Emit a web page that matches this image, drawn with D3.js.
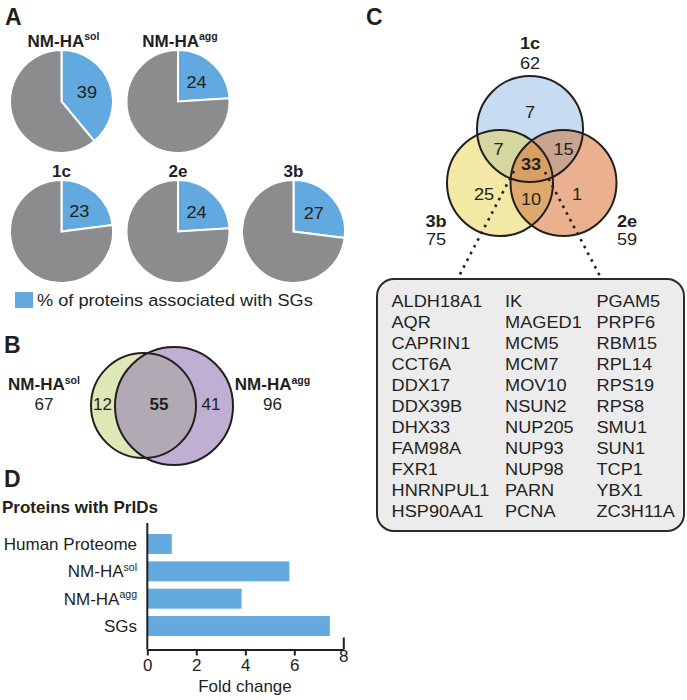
<!DOCTYPE html>
<html><head><meta charset="utf-8">
<script src="https://cdn.jsdelivr.net/npm/d3@7"></script>
<style>
html,body{margin:0;padding:0;background:#fff;}
text{font-family:"Liberation Sans",Arial,sans-serif;fill:#231f20;}
</style></head>
<body>
<svg id="chart" width="687" height="700"></svg>
<script>
// ---------- DATA ----------
const pieNames = ["NM-HA", "NM-HA", "1c", "2e", "3b"];
const pieSups = ["sol", "agg", "", "", ""];
const pieValues = [39, 24, 23, 24, 27];
const legendText = "% of proteins associated with SGs";

const vennBNames = ["NM-HA", "NM-HA"];
const vennBSups = ["sol", "agg"];
const vennBTotals = [67, 96];
const vennBRegions = [12, 55, 41]; // sol only, both, agg only

const vennCNames = ["1c", "3b", "2e"];
const vennCTotals = [62, 75, 59];
// regions: 1c only, 1c&3b, 1c&2e, all, 3b only, 3b&2e, 2e only
const vennCRegions = [7, 7, 15, 33, 25, 10, 1];

const genesCol1 = ["ALDH18A1","AQR","CAPRIN1","CCT6A","DDX17","DDX39B","DHX33","FAM98A","FXR1","HNRNPUL1","HSP90AA1"];
const genesCol2 = ["IK","MAGED1","MCM5","MCM7","MOV10","NSUN2","NUP205","NUP93","NUP98","PARN","PCNA"];
const genesCol3 = ["PGAM5","PRPF6","RBM15","RPL14","RPS19","RPS8","SMU1","SUN1","TCP1","YBX1","ZC3H11A"];

const barTitle = "Proteins with PrIDs";
const barCategories = ["Human Proteome", "NM-HA", "NM-HA", "SGs"];
const barSups = ["", "sol", "agg", ""];
const barValues = [1.0, 5.8, 3.85, 7.45];
const xTicks = [0, 2, 4, 6, 8];
const xLabel = "Fold change";

// ---------- STYLE ----------
const BLUE = "#62a9df", GREY = "#8b8c8e", INK = "#231f20";
const SX = 1.07; // some reference text is slightly wide
const svg = d3.select("#chart");
svg.append("rect").attr("width",687).attr("height",700).attr("fill","#fff");

function label(g, x, y, name, sup, size, weight, anchor) {
  const t = g.append("text").attr("x", x).attr("y", y)
    .attr("text-anchor", anchor || "middle")
    .style("font-size", size + "px").style("font-weight", weight || "normal");
  t.append("tspan").text(name);
  if (sup) t.append("tspan").attr("dy", -size*0.38).style("font-size", (size*0.62)+"px").text(sup);
  return t;
}
function panelLetter(x, y, s) {
  svg.append("text").attr("x", x).attr("y", y).text(s)
    .style("font-size", "23px").style("font-weight", "bold");
}

// ---------- PANEL A: pies ----------
panelLetter(5, 25, "A");
const pieCenters = [[61.5,101.5],[178,101.5],[61.5,231.5],[178,231.5],[293.5,231.5]];
const titleY = [46.5, 46.5, 176.5, 176.5, 176.5];
const R = 51.5;
const pie = d3.pie().sort(null).value(d => d);
const arc = d3.arc().innerRadius(0).outerRadius(R);
pieValues.forEach((v, i) => {
  const g = svg.append("g").attr("transform", `translate(${pieCenters[i][0]},${pieCenters[i][1]})`);
  const arcs = pie([v, 100 - v]);
  g.selectAll("path").data(arcs).join("path")
    .attr("d", arc).attr("fill", (d, j) => j === 0 ? BLUE : GREY)
    .attr("stroke", "#fff").attr("stroke-width", 2).attr("stroke-linejoin","miter");
  const a = (arcs[0].startAngle + arcs[0].endAngle) / 2;
  const lr = 27;
  g.append("text").attr("class","wide").attr("x", lr*Math.sin(a)).attr("y", -lr*Math.cos(a))
    .attr("text-anchor","middle").attr("dominant-baseline","central")
    .style("font-size","17px").text(v);
  label(svg, pieCenters[i][0] + (pieSups[i] ? 2 : 0), titleY[i], pieNames[i], pieSups[i], 17, "bold");
});
svg.append("rect").attr("x",15).attr("y",292).attr("width",18).attr("height",16).attr("fill",BLUE);
svg.append("text").attr("class","wide").attr("x",37).attr("y",306).style("font-size","17px").text(legendText);

// ---------- PANEL B: two-set venn ----------
panelLetter(4, 353, "B");
const cB = [{x:143.5,y:405.5,r:52.5,fill:"#dde8b6"},{x:174,y:406,r:59,fill:"#bfafd3"}];
const defs = svg.append("defs");
defs.append("clipPath").attr("id","clipB2").append("circle").attr("cx",cB[1].x).attr("cy",cB[1].y).attr("r",cB[1].r);
svg.selectAll("circle.bfill").data(cB).join("circle").attr("class","bfill")
  .attr("cx",d=>d.x).attr("cy",d=>d.y).attr("r",d=>d.r).attr("fill",d=>d.fill);
svg.append("circle").attr("cx",cB[0].x).attr("cy",cB[0].y).attr("r",cB[0].r)
  .attr("fill","#b1a9b3").attr("clip-path","url(#clipB2)");
svg.selectAll("circle.bstroke").data(cB).join("circle").attr("class","bstroke")
  .attr("cx",d=>d.x).attr("cy",d=>d.y).attr("r",d=>d.r).attr("fill","none")
  .attr("stroke",INK).attr("stroke-width",2);
const bLabelX = [44, 272.5];
vennBNames.forEach((n,i) => {
  label(svg, bLabelX[i], 390, n, vennBSups[i], 17, "bold");
  svg.append("text").attr("x", bLabelX[i]).attr("y", 410).attr("text-anchor","middle")
    .style("font-size","17px").text(vennBTotals[i]);
});
const bRegX = [102.5, 159, 211];
vennBRegions.forEach((v,i) => {
  svg.append("text").attr("x", bRegX[i]).attr("y", 410).attr("text-anchor","middle")
    .style("font-size","17px").style("font-weight", i===1?"bold":"normal").text(v);
});

// ---------- PANEL C: three-set venn ----------
panelLetter(366, 25, "C");
const cC = [
  {x:530,y:129,r:53,fill:"#c7dcf1"},
  {x:500,y:183,r:53,fill:"#f4e8a5"},
  {x:563.5,y:183,r:53,fill:"#ebb08e"}
];
cC.forEach((c,i) => {
  defs.append("clipPath").attr("id","clipC"+i).append("circle").attr("cx",c.x).attr("cy",c.y).attr("r",c.r);
});
svg.selectAll("circle.cfill").data(cC).join("circle").attr("class","cfill")
  .attr("cx",d=>d.x).attr("cy",d=>d.y).attr("r",d=>d.r).attr("fill",d=>d.fill);
const pairFills = [[0,1,"#d5d6a0"],[0,2,"#c9a48f"],[1,2,"#e0a96c"]];
pairFills.forEach(([a,b,f]) => {
  svg.append("circle").attr("cx",cC[a].x).attr("cy",cC[a].y).attr("r",cC[a].r)
    .attr("fill",f).attr("clip-path",`url(#clipC${b})`);
});
svg.append("g").attr("clip-path","url(#clipC2)").append("circle")
  .attr("cx",cC[0].x).attr("cy",cC[0].y).attr("r",cC[0].r)
  .attr("fill","#d89f62").attr("clip-path","url(#clipC1)");
svg.selectAll("circle.cstroke").data(cC).join("circle").attr("class","cstroke")
  .attr("cx",d=>d.x).attr("cy",d=>d.y).attr("r",d=>d.r).attr("fill","none")
  .attr("stroke",INK).attr("stroke-width",2);
const cRegPos = [[530,118],[498.5,155],[563.5,155],[531,170],[484,200],[531,205],[577,200]];
vennCRegions.forEach((v,i) => {
  svg.append("text").attr("class","wide").attr("x",cRegPos[i][0]).attr("y",cRegPos[i][1]).attr("text-anchor","middle")
    .style("font-size","17px").style("font-weight", i===3?"bold":"normal").text(v);
});
const cLabPos = [[530,48.5,68.5],[436,227,245],[627,227,245]];
vennCNames.forEach((n,i) => {
  label(svg, cLabPos[i][0], cLabPos[i][1], n, "", 17, "bold").attr("class","wide");
  svg.append("text").attr("class","wide").attr("x",cLabPos[i][0]).attr("y",cLabPos[i][2]).attr("text-anchor","middle")
    .style("font-size","17px").text(vennCTotals[i]);
});
// dotted connectors
[[514,171,459,276],[545,172,600,276]].forEach(l => {
  svg.append("line").attr("x1",l[0]).attr("y1",l[1]).attr("x2",l[2]).attr("y2",l[3])
    .attr("stroke",INK).attr("stroke-width",2.6).attr("stroke-dasharray","2.6,5");
});
// gene box
svg.append("rect").attr("x",377).attr("y",279).attr("width",307).attr("height",252).attr("rx",17)
  .attr("fill","#ececed").attr("stroke","#2b2b2b").attr("stroke-width",2);
const colX = [391.5, 505, 596.5];
[genesCol1, genesCol2, genesCol3].forEach((col, ci) => {
  svg.append("g").selectAll("text").data(col).join("text").attr("class","wide")
    .attr("x", colX[ci]).attr("y", (d,j) => 306.7 + j*21)
    .style("font-size","17px").text(d => d);
});

// ---------- PANEL D: bar chart ----------
panelLetter(4, 487, "D");
svg.append("text").attr("x",2).attr("y",513).style("font-size","17px").style("font-weight","bold").text(barTitle);
const x = d3.scaleLinear().domain([0,8]).range([147.3, 343.3]);
const y = d3.scaleBand().domain(d3.range(barCategories.length)).range([530.3, 639.7])
  .paddingInner(0.27).paddingOuter(0.135);
svg.append("g").selectAll("rect").data(barValues).join("rect")
  .attr("x", x(0)).attr("y", (d,i) => y(i)).attr("width", d => x(d) - x(0)).attr("height", y.bandwidth())
  .attr("fill", "#65aadf");
barCategories.forEach((c,i) => {
  label(svg, 137, y(i) + y.bandwidth()/2 + 6, c, barSups[i], 17, "normal", "end");
});
svg.append("line").attr("x1",x(0)).attr("x2",x(0)).attr("y1",523).attr("y2",649.5)
  .attr("stroke",INK).attr("stroke-width",2);
const xAxis = svg.append("g").attr("transform","translate(0,649.5)")
  .call(d3.axisBottom(x).tickValues(xTicks).tickSize(6).tickSizeOuter(0).tickFormat(d3.format("d")));
xAxis.select(".domain").attr("stroke",INK).attr("stroke-width",2);
xAxis.selectAll(".tick line").attr("stroke",INK).attr("stroke-width",2);
xAxis.selectAll(".tick text").attr("fill",INK).style("font-size","17px")
  .style("font-family",'"Liberation Sans",Arial,sans-serif').attr("y",9);
xAxis.selectAll(".tick").filter(d => d === 8).select("line").attr("y2",-12);
xAxis.selectAll(".tick").filter(d => d === 8).select("text").attr("y",0);
svg.append("text").attr("x",245).attr("y",692).attr("text-anchor","middle")
  .style("font-size","17px").text(xLabel);

// widen selected text slightly (reference glyphs there are a bit wider than Arial)
svg.selectAll("text.wide").each(function() {
  const t = d3.select(this);
  const tx = +(t.attr("x") || 0), ty = +(t.attr("y") || 0);
  t.attr("x", 0).attr("y", 0).attr("transform", `translate(${tx},${ty}) scale(${SX},1)`);
});
</script>
</body></html>
